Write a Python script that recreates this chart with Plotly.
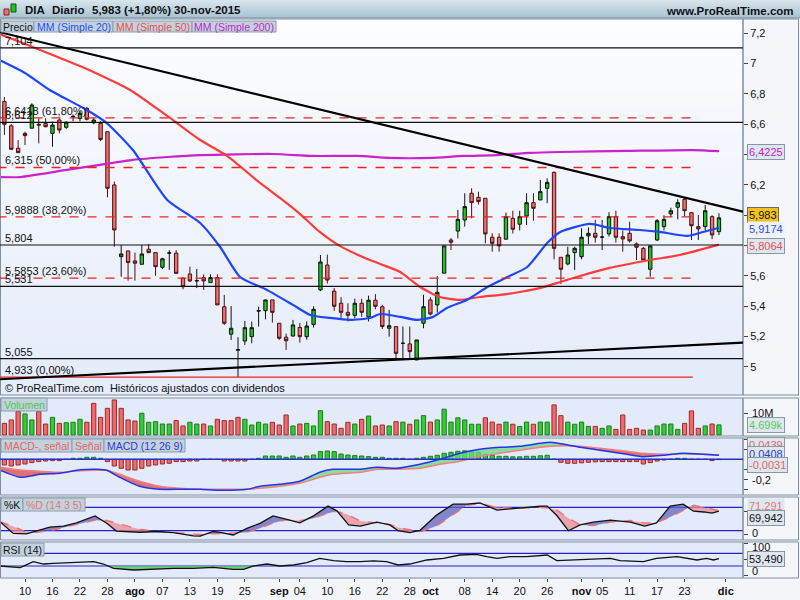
import plotly.graph_objects as go

W, H = 800, 600
PR = 743  # right edge of plot area (px)

# ---------------- DATA ----------------
tick_idx = [3, 7, 11, 15, 19, 23, 27, 31, 35, 40, 43, 47, 51, 55, 59, 62, 67, 71, 75, 79, 84, 87, 91, 95, 99, 105]
tick_txt = ['10', '16', '22', '28', '<b>ago</b>', '07', '13', '19', '25', '<b>sep</b>', '04', '10', '16', '22', '28',
            '<b>oct</b>', '08', '14', '20', '26', '<b>nov</b>', '05', '11', '17', '23', '<b>dic</b>']

opens = [6.75, 6.59, 6.442, 6.54, 6.574, 6.60, 6.606, 6.54, 6.628, 6.58,
         6.648, 6.639, 6.705, 6.61, 6.606, 6.551, 6.20, 5.727, 5.765, 5.699,
         5.677, 5.776, 5.754, 5.657, 5.75, 5.75, 5.585, 5.613, 5.567, 5.589,
         5.556, 5.589, 5.397, 5.216, 5.11, 5.171, 5.200, 5.368, 5.371, 5.442,
         5.288, 5.196, 5.204, 5.26, 5.20, 5.28, 5.508, 5.672, 5.50, 5.42,
         5.36, 5.34, 5.42, 5.33, 5.44, 5.397, 5.255, 5.266, 5.156, 5.152,
         5.046, 5.288, 5.442, 5.409, 5.618, 5.837, 5.896, 5.969, 6.145, 6.118,
         6.112, 5.855, 5.855, 5.842, 5.98, 5.941, 5.995, 6.083, 6.101, 6.178,
         6.283, 5.723, 5.679, 5.754, 5.727, 5.864, 5.881, 5.855, 5.877, 5.991,
         5.859, 5.881, 5.811, 5.782, 5.644, 5.837, 5.925, 6.009, 6.053, 6.105,
         6.017, 5.925, 5.925, 5.991, 5.892]
highs = [6.78, 6.60, 6.496, 6.551, 6.738, 6.639, 6.64, 6.617, 6.639, 6.62,
         6.665, 6.688, 6.715, 6.639, 6.62, 6.551, 6.222, 5.804, 5.765, 5.754,
         5.804, 5.811, 5.754, 5.72, 5.77, 5.77, 5.59, 5.661, 5.646, 5.61,
         5.61, 5.611, 5.475, 5.402, 5.196, 5.303, 5.299, 5.397, 5.442, 5.442,
         5.288, 5.22, 5.310, 5.29, 5.30, 5.40, 5.738, 5.74, 5.52, 5.46,
         5.42, 5.45, 5.45, 5.47, 5.48, 5.41, 5.376, 5.266, 5.266, 5.266,
         5.178, 5.475, 5.46, 5.60, 5.798, 5.85, 6.035, 6.145, 6.178, 6.155,
         6.112, 5.881, 5.881, 6.017, 6.03, 6.03, 6.145, 6.145, 6.233, 6.244,
         6.288, 5.723, 5.793, 5.793, 5.914, 5.92, 5.969, 5.969, 6.02, 6.03,
         5.90, 5.958, 5.82, 5.79, 5.80, 5.975, 6.00, 6.05, 6.105, 6.115,
         6.02, 6.002, 6.068, 6.0, 6.013]
lows = [6.53, 6.43, 6.41, 6.463, 6.574, 6.474, 6.58, 6.452, 6.54, 6.57,
        6.62, 6.62, 6.625, 6.60, 6.49, 6.118, 5.793, 5.595, 5.569, 5.569,
        5.677, 5.75, 5.601, 5.645, 5.64, 5.617, 5.512, 5.56, 5.52, 5.508,
        5.556, 5.409, 5.277, 5.178, 4.933, 5.145, 5.156, 5.266, 5.314, 5.292,
        5.178, 5.112, 5.20, 5.16, 5.18, 5.26, 5.50, 5.55, 5.37, 5.32,
        5.30, 5.32, 5.33, 5.30, 5.38, 5.25, 5.20, 5.059, 5.046, 5.046,
        5.046, 5.255, 5.34, 5.358, 5.618, 5.771, 5.848, 5.925, 5.98, 6.07,
        5.815, 5.76, 5.76, 5.842, 5.88, 5.90, 5.936, 5.964, 6.101, 6.08,
        5.71, 5.547, 5.67, 5.64, 5.71, 5.81, 5.82, 5.771, 5.86, 5.82,
        5.76, 5.82, 5.705, 5.705, 5.595, 5.83, 5.90, 5.99, 5.973, 5.991,
        5.837, 5.837, 5.90, 5.842, 5.87]
closes = [6.60, 6.435, 6.413, 6.525, 6.727, 6.595, 6.584, 6.595, 6.562, 6.613,
          6.652, 6.672, 6.633, 6.628, 6.50, 6.178, 5.903, 5.745, 5.688, 5.684,
          5.745, 5.754, 5.661, 5.713, 5.752, 5.617, 5.529, 5.567, 5.569, 5.567,
          5.589, 5.409, 5.288, 5.255, 5.114, 5.259, 5.259, 5.371, 5.442, 5.36,
          5.189, 5.173, 5.277, 5.20, 5.27, 5.38, 5.692, 5.573, 5.40, 5.36,
          5.34, 5.42, 5.36, 5.44, 5.40, 5.266, 5.272, 5.09, 5.156, 5.101,
          5.178, 5.397, 5.349, 5.492, 5.798, 5.822, 5.973, 6.057, 6.083, 6.09,
          5.877, 5.815, 5.798, 5.991, 5.908, 5.991, 6.083, 6.046, 6.156, 6.217,
          5.782, 5.644, 5.738, 5.782, 5.855, 5.881, 5.855, 5.857, 5.991, 5.855,
          5.844, 5.831, 5.789, 5.705, 5.798, 5.964, 5.973, 6.03, 6.083, 6.030,
          5.931, 5.91, 6.030, 5.870, 5.983]

# volume in millions, and up(1)/down(0) colour flag
volume = [5.4, 7.0, 10.9, 9.8, 7.0, 10.9, 5.1, 8.2, 5.4, 5.7,
          5.9, 7.3, 5.9, 14.7, 8.2, 12.4, 16.3, 12.4, 7.0, 6.5,
          10.1, 5.9, 6.2, 5.1, 5.1, 6.7, 4.2, 5.9, 5.1, 5.1,
          4.2, 7.3, 6.7, 6.7, 8.2, 7.3, 4.65, 5.9, 5.1, 5.9,
          4.65, 9.3, 4.2, 5.1, 5.4, 4.2, 11.3, 6.2, 5.1, 3.1,
          5.9, 5.1, 7.3, 8.8, 4.2, 4.65, 4.2, 6.2, 6.0, 5.0,
          7.0, 9.0, 6.0, 7.0, 12.0, 6.0, 8.0, 7.0, 5.0, 5.0,
          8.0, 6.0, 5.0, 6.0, 5.0, 4.0, 6.0, 5.0, 6.0, 6.0,
          14.0, 9.0, 6.0, 5.0, 6.0, 4.0, 4.0, 3.1, 4.2, 2.6,
          9.3, 2.6, 3.1, 2.3, 2.3, 4.2, 5.1, 5.1, 2.6, 5.4,
          11.2, 3.1, 4.2, 5.1, 4.699]
vol_up = [0, 0, 0, 1, 1, 0, 0, 1, 0, 1,
          1, 1, 0, 0, 0, 0, 0, 0, 0, 0,
          1, 1, 1, 1, 1, 0, 0, 1, 1, 0,
          1, 0, 0, 0, 0, 1, 1, 1, 1, 0,
          0, 0, 1, 0, 1, 1, 1, 0, 0, 0,
          0, 1, 0, 1, 0, 0, 1, 0, 1, 0,
          1, 1, 0, 1, 1, 1, 1, 1, 1, 1,
          0, 0, 0, 1, 0, 1, 1, 0, 1, 1,
          0, 0, 1, 1, 1, 1, 0, 1, 1, 0,
          0, 0, 0, 0, 1, 1, 1, 1, 1, 0,
          0, 0, 1, 0, 1]

# moving averages (date index, value)
ma20_idx = [-1, 3, 6.6, 12, 14.9, 18.7, 23.7, 28.5, 31.4, 34.3, 38.2, 42, 44.5, 47.4, 50.3, 53.2, 54.7, 57.6,
            60, 62.4, 64.4, 67.3, 70.3, 73.2, 76.1, 79, 80.9, 85.2, 88.2, 92.5, 95.4, 99.4, 101.7, 104]
ma20_val = [7.03, 6.938, 6.826, 6.694, 6.608, 6.430, 6.101, 5.949, 5.791, 5.593, 5.508, 5.409, 5.343, 5.323, 5.310,
            5.323, 5.349, 5.330, 5.310, 5.330, 5.389, 5.442, 5.527, 5.593, 5.659, 5.817, 5.890, 5.943, 5.916, 5.903,
            5.890, 5.864, 5.890, 5.9174]
ma50_idx = [-1, 2.3, 5.2, 8.1, 11, 13.9, 18.3, 23.7, 28.5, 32.4, 37.2, 40.1, 43, 45.9, 48.8, 51.8, 54.7, 57.6,
            60.5, 63.4, 66.3, 69.2, 72.1, 75, 78, 80.9, 83.8, 88.1, 94, 98.3, 104]
ma50_val = [7.20, 7.142, 7.090, 7.037, 6.984, 6.925, 6.826, 6.655, 6.496, 6.391, 6.213, 6.114, 6.009, 5.890, 5.798,
            5.732, 5.679, 5.626, 5.527, 5.461, 5.442, 5.461, 5.475, 5.494, 5.521, 5.560, 5.600, 5.653, 5.705, 5.738,
            5.8064]
ma200_idx = [-1, 2.3, 9.1, 13.9, 18.7, 23.7, 28.5, 39.1, 44.9, 51.3, 56.1, 62, 66.8, 71.7, 76.5, 80.9, 90.6, 100.2, 104]
ma200_val = [6.252, 6.252, 6.299, 6.332, 6.365, 6.384, 6.397, 6.404, 6.391, 6.391, 6.378, 6.378, 6.391, 6.397, 6.411,
             6.417, 6.424, 6.430, 6.4225]

# drawn lines
trend_hi = ([-0.64, 107.5], [7.207, 6.024])
trend_lo = ([-0.64, 107.5], [4.919, 5.160])
h_levels = [7.104, 6.612, 5.804, 5.531, 5.055]
h_labels = ['7,104', '6,612', '5,804', '5,531', '5,055']
fib_levels = [6.6418, 6.315, 5.9888, 5.5853, 4.933]
fib_labels = ['6,6418 (61,80%)', '6,315 (50,00%)', '5,9888 (38,20%)', '5,5853 (23,60%)', '4,933 (0,00%)']
fib_end = 100.2

# MACD (index, macd, signal)
macd_idx = [-1, 2.3, 5.2, 8.1, 11, 13.5, 14.9, 16.8, 19.7, 22.6, 25.6, 28.5, 31.4, 35.3, 37.2, 40.1, 43, 45.9,
            47.8, 51.8, 54.2, 57.1, 60.5, 63.4, 66.3, 69.2, 72.1, 75, 78, 79.5, 81.5, 83.8, 86.7, 90.6, 93, 96,
            98.8, 101.7, 104]
macd_val = [-0.10, -0.18, -0.15, -0.14, -0.105, -0.10, -0.11, -0.18, -0.27, -0.30, -0.30, -0.30, -0.31, -0.30,
            -0.27, -0.25, -0.22, -0.13, -0.10, -0.10, -0.08, -0.09, -0.05, 0.0, 0.06, 0.10, 0.12, 0.13, 0.16, 0.17,
            0.15, 0.12, 0.09, 0.05, 0.026, 0.04, 0.06, 0.05, 0.0408]
signal_val = [-0.075, -0.107, -0.12, -0.13, -0.115, -0.11, -0.11, -0.15, -0.22, -0.27, -0.29, -0.30, -0.30, -0.30,
              -0.29, -0.27, -0.24, -0.18, -0.15, -0.13, -0.10, -0.10, -0.09, -0.05, -0.02, 0.03, 0.06, 0.09, 0.12,
              0.13, 0.135, 0.13, 0.11, 0.08, 0.06, 0.05, 0.055, 0.05, 0.0439]
macd_hist = [-0.057, -0.067, -0.057, -0.047, -0.033, -0.023, -0.017, -0.013, -0.013, 0.0,
             0.01, 0.01, 0.02, 0.02, 0.01, -0.023, -0.067, -0.09, -0.107, -0.107,
             -0.09, -0.067, -0.057, -0.047, -0.04, -0.023, -0.023, -0.017, -0.017, 0.0,
             0.0, 0.0, -0.017, -0.017, -0.017, -0.017, 0.0, 0.01, 0.033, 0.033,
             0.033, 0.02, 0.033, 0.02, 0.033, 0.043, 0.077, 0.083, 0.077, 0.053,
             0.043, 0.037, 0.033, 0.027, 0.02, 0.02, 0.01, 0.01, 0.01, 0.0,
             0.01, 0.02, 0.03, 0.04, 0.06, 0.07, 0.08, 0.085, 0.08, 0.07,
             0.05, 0.04, 0.03, 0.03, 0.025, 0.025, 0.03, 0.03, 0.035, 0.04,
             0.0, -0.03, -0.04, -0.04, -0.035, -0.03, -0.025, -0.023, -0.023, -0.023,
             -0.023, -0.023, -0.023, -0.047, -0.033, -0.017, -0.007, 0.0, 0.01, 0.01,
             0.0, 0.0, 0.0, -0.013, -0.0031]

# Stochastic (index, %K, %D)
sto_idx = [-0.64, 1.3, 3.2, 4.7, 6.6, 8.6, 10.5, 13.2, 14.9, 16.3, 19.7, 22.2, 24.6, 27.5, 28.5, 30.4, 31.4, 33.3,
           35.3, 37.2, 39.1, 41.1, 43, 45, 47.1, 48.4, 50.1, 51.8, 54.2, 56.1, 57.3, 59, 60.5, 62.9, 65.3, 67.3,
           69.2, 71.7, 74.6, 78, 79, 80.4, 82.1, 83.8, 85.7, 88.2, 91.1, 93.2, 94.9, 96.9, 98.8, 100.3, 101.8,
           103, 104]
sto_k = [43, 13, 12, 20, 29, 32, 40, 58, 39, 19, 16, 18, 15, 7, 6, 18, 16, 9, 26, 39, 58, 49, 40, 58, 83, 71, 35,
         32, 42, 35, 20, 15, 21, 60, 88, 88, 91, 73, 78, 83, 83, 59, 20, 35, 42, 47, 42, 32, 40, 83, 88, 70, 68, 65,
         69.942]
sto_d = [43, 31, 16, 16, 20, 28, 36, 47, 46, 39, 24, 18, 15, 11, 10.6, 12, 13, 13, 16, 26, 40, 48, 46, 52, 65, 70,
         60, 45, 40, 36, 28, 22, 17, 32, 60, 85, 90, 80, 77, 80, 78, 73, 52, 35, 33, 42, 46, 40, 40, 55, 72, 85, 80,
         75, 71.291]

# RSI (index, value)
rsi_idx = [-0.64, 2.3, 4.2, 5.7, 7.1, 9.1, 11, 13, 14.4, 15.9, 18.8, 21.7, 24.6, 27.5, 30.4, 33.3, 34.8, 36.3,
           38.2, 40.1, 42.1, 44, 45.9, 47.9, 49.8, 51.8, 53.7, 55.6, 57.3, 59, 61.5, 63.9, 66.3, 68.7, 70.2, 71.7,
           73.6, 76, 79, 80.4, 82.8, 85.2, 88.2, 89.6, 93, 94.9, 97.9, 100.8, 102.2, 103.2, 104]
rsi_val = [30, 24.6, 43.5, 36.2, 38.4, 40.5, 43.5, 43.5, 36.2, 22.7, 17.3, 20.5, 22.7, 22.7, 25.8, 19.5, 19.5,
           30, 36.2, 30, 33.1, 40.5, 54.2, 46.9, 43.5, 43.5, 45.8, 43.5, 33.1, 36.2, 48.9, 54.2, 64.6, 66.8, 59.3,
           54.2, 59.3, 59.3, 64.6, 46.9, 48.9, 51, 54.2, 46.9, 43.5, 54.2, 59.3, 48.9, 54.2, 48.9, 53.49]

# ---------------- helpers ----------------
FONT = 'Liberation Sans, Arial, sans-serif'


def ypx(p):  # pixel row -> paper y
    return 1 - p / H


def xpx(p):
    return p / W


PANELS = {  # top, bottom pixel rows
    'y': (19, 395), 'y2': (398, 436), 'y3': (438, 495), 'y4': (497, 540), 'y5': (542, 578)}

fig = go.Figure()
shapes = []
ann = []

BG_PANEL = '#e3eaf9'
BORDER = '#7f8fa0'

# header bar gradient
top_c, bot_c = (214, 228, 236), (170, 196, 211)
nb = 9
for k in range(nb):
    t = k / (nb - 1)
    c = tuple(int(top_c[j] + (bot_c[j] - top_c[j]) * t) for j in range(3))
    shapes.append(dict(type='rect', xref='paper', yref='paper', x0=0, x1=1, y0=ypx(k * 2 + 2), y1=ypx(k * 2),
                       fillcolor='rgb(%d,%d,%d)' % c, line=dict(width=0), layer='below'))
shapes.append(dict(type='line', xref='paper', yref='paper', x0=0, x1=1, y0=ypx(18), y1=ypx(18),
                   line=dict(color='#7a8d9c', width=1), layer='below'))

# price panel gradient
ptop, pbot = PANELS['y']
ct, cb = (252, 253, 255), (229, 236, 250)
nb = 30
for k in range(nb):
    y0p = ptop + (pbot - ptop) * k / nb
    y1p = ptop + (pbot - ptop) * (k + 1) / nb
    t = k / (nb - 1)
    c = tuple(int(ct[j] + (cb[j] - ct[j]) * t) for j in range(3))
    shapes.append(dict(type='rect', xref='paper', yref='paper', x0=0, x1=xpx(PR), y0=ypx(y1p + 0.5), y1=ypx(y0p),
                       fillcolor='rgb(%d,%d,%d)' % c, line=dict(width=0), layer='below'))

for key, (t, b) in PANELS.items():
    if key != 'y':
        shapes.append(dict(type='rect', xref='paper', yref='paper', x0=0, x1=xpx(PR), y0=ypx(b), y1=ypx(t),
                           fillcolor=BG_PANEL, line=dict(width=0), layer='below'))
    shapes.append(dict(type='rect', xref='paper', yref='paper', x0=xpx(0.5), x1=xpx(PR), y0=ypx(b), y1=ypx(t),
                       fillcolor='rgba(0,0,0,0)', line=dict(color=BORDER, width=1), layer='above'))
    shapes.append(dict(type='rect', xref='paper', yref='paper', x0=xpx(PR), x1=xpx(798.5), y0=ypx(b), y1=ypx(t),
                       fillcolor='#f4f6f9', line=dict(color=BORDER, width=1), layer='below'))

# horizontal black lines and fib lines
for lv in h_levels:
    shapes.append(dict(type='line', xref='x', yref='y', x0=-1, x1=110, y0=lv, y1=lv,
                       line=dict(color='#111111', width=1.2)))
for k, lv in enumerate(fib_levels):
    shapes.append(dict(type='line', xref='x', yref='y', x0=-1, x1=fib_end, y0=lv, y1=lv,
                       line=dict(color='#ee2020', width=1.3, dash='solid' if k == 4 else 'dash')))
# trend lines
for tl in (trend_hi, trend_lo):
    shapes.append(dict(type='line', xref='x', yref='y', x0=tl[0][0], x1=tl[0][1], y0=tl[1][0], y1=tl[1][1],
                       line=dict(color='#000000', width=2.2)))
# stochastic and RSI guide lines
for lv in (80, 20):
    shapes.append(dict(type='line', xref='paper', yref='y4', x0=0, x1=xpx(PR), y0=lv, y1=lv,
                       line=dict(color='#2222cc', width=1.2), layer='below'))
for lv in (70, 30):
    shapes.append(dict(type='line', xref='paper', yref='y5', x0=0, x1=xpx(PR), y0=lv, y1=lv,
                       line=dict(color='#2222cc', width=1.2), layer='below'))
shapes.append(dict(type='line', xref='paper', yref='y3', x0=0, x1=xpx(PR), y0=0, y1=0,
                   line=dict(color='#2233cc', width=1.5)))


def band_polys(xs, a, b):
    segs = []
    cx, ca, cb_ = [xs[0]], [a[0]], [b[0]]
    sign = a[0] >= b[0]
    for k in range(1, len(xs)):
        s = a[k] >= b[k]
        if s != sign:
            d0 = a[k - 1] - b[k - 1]
            d1 = a[k] - b[k]
            tt = d0 / (d0 - d1)
            xc = xs[k - 1] + tt * (xs[k] - xs[k - 1])
            yc = a[k - 1] + tt * (a[k] - a[k - 1])
            cx.append(xc); ca.append(yc); cb_.append(yc)
            segs.append((cx, ca, cb_, sign))
            cx, ca, cb_ = [xc], [yc], [yc]
            sign = s
        cx.append(xs[k]); ca.append(a[k]); cb_.append(b[k])
    segs.append((cx, ca, cb_, sign))
    return segs


def add_band(xs, a, b, col_pos, col_neg, yaxis):
    for cx, ca, cb_, s in band_polys(xs, a, b):
        fig.add_trace(go.Scatter(x=cx + cx[::-1], y=ca + cb_[::-1], fill='toself', mode='lines',
                                 line=dict(width=0), fillcolor=col_pos if s else col_neg,
                                 hoverinfo='skip', yaxis=yaxis))


# ---------------- traces ----------------
idx = list(range(len(opens)))
fig.add_trace(go.Scatter(x=ma200_idx, y=ma200_val, mode='lines', line=dict(color='#cc22cc', width=2.2, shape='spline', smoothing=0.6), hoverinfo='skip'))
fig.add_trace(go.Scatter(x=ma50_idx, y=ma50_val, mode='lines', line=dict(color='#ff3b3b', width=2.2, shape='spline', smoothing=0.6), hoverinfo='skip'))
fig.add_trace(go.Scatter(x=ma20_idx, y=ma20_val, mode='lines', line=dict(color='#1f45ff', width=2.2, shape='spline', smoothing=0.6), hoverinfo='skip'))
fig.add_trace(go.Candlestick(x=idx, open=opens, high=highs, low=lows, close=closes,
                             increasing=dict(fillcolor='#22c322', line=dict(color='#111111', width=1)),
                             decreasing=dict(fillcolor='#f07070', line=dict(color='#4a1010', width=1)),
                             whiskerwidth=0, hoverinfo='skip'))

# volume
fig.add_trace(go.Bar(x=idx, y=volume, yaxis='y2', width=0.62,
                     marker=dict(color=['#33cc33' if u else '#ee6b6b' for u in vol_up],
                                 line=dict(color=['#1d7a1d' if u else '#a02828' for u in vol_up], width=1)),
                     hoverinfo='skip'))

# MACD
add_band(macd_idx, macd_val, signal_val, 'rgba(110,215,130,0.75)', 'rgba(225,90,90,0.85)', 'y3')
fig.add_trace(go.Bar(x=idx, y=macd_hist, yaxis='y3', width=0.62,
                     marker=dict(color=['#33cc33' if v > 0 else '#ee6b6b' for v in macd_hist],
                                 line=dict(color=['#1d7a1d' if v > 0 else '#a02828' for v in macd_hist], width=1)),
                     hoverinfo='skip'))
fig.add_trace(go.Scatter(x=macd_idx, y=signal_val, yaxis='y3', mode='lines',
                         line=dict(color='#f08080', width=1.5, shape='spline', smoothing=0.5), hoverinfo='skip'))
fig.add_trace(go.Scatter(x=macd_idx, y=macd_val, yaxis='y3', mode='lines',
                         line=dict(color='#2233ee', width=1.5, shape='spline', smoothing=0.5), hoverinfo='skip'))

# Stochastic
add_band(sto_idx, sto_k, sto_d, 'rgba(100,100,190,0.75)', 'rgba(235,140,150,0.75)', 'y4')
fig.add_trace(go.Scatter(x=sto_idx, y=sto_d, yaxis='y4', mode='lines',
                         line=dict(color='#f07070', width=1.4, dash='dash'), hoverinfo='skip'))
fig.add_trace(go.Scatter(x=sto_idx, y=sto_k, yaxis='y4', mode='lines',
                         line=dict(color='#111111', width=1.3), hoverinfo='skip'))

# RSI
thirty = [30] * len(rsi_idx)
for cx, ca, cb_, s in band_polys(rsi_idx, rsi_val, thirty):
    if not s:
        fig.add_trace(go.Scatter(x=cx + cx[::-1], y=ca + cb_[::-1], fill='toself', mode='lines',
                                 line=dict(width=0), fillcolor='rgba(90,200,110,0.85)', hoverinfo='skip',
                                 yaxis='y5'))
fig.add_trace(go.Scatter(x=rsi_idx, y=rsi_val, yaxis='y5', mode='lines',
                         line=dict(color='#111111', width=1.3), hoverinfo='skip'))


# ---------------- annotations ----------------
def text(xp, yp, s, color='#111', size=11, xanchor='left', bold=False, bg=None, border=None, yanchor='middle'):
    d = dict(xref='paper', yref='paper', x=xpx(xp), y=ypx(yp), text=('<b>%s</b>' % s) if bold else s,
             showarrow=False, xanchor=xanchor, yanchor=yanchor,
             font=dict(color=color, size=size, family=FONT))
    if bg:
        d.update(bgcolor=bg, borderpad=1)
    if border:
        d.update(bordercolor=border, borderwidth=1)
    ann.append(d)


def chip(x0, x1, y0, y1, s, color):
    shapes.append(dict(type='rect', xref='paper', yref='paper', x0=xpx(x0), x1=xpx(x1), y0=ypx(y1), y1=ypx(y0),
                       fillcolor='#c3d1dc', line=dict(color='#8a9cab', width=1)))
    text((x0 + x1) / 2, (y0 + y1) / 2 + 0.5, s, color=color, xanchor='center', size=10.5)


# header
shapes.append(dict(type='rect', xref='paper', yref='paper', x0=xpx(4), x1=xpx(9), y0=ypx(15), y1=ypx(9),
                   fillcolor='#f07070', line=dict(color='#802020', width=1)))
shapes.append(dict(type='rect', xref='paper', yref='paper', x0=xpx(11), x1=xpx(16), y0=ypx(12), y1=ypx(4),
                   fillcolor='#22c322', line=dict(color='#105010', width=1)))
text(23, 10, 'DIA', bold=True, size=11.5)
text(50, 10, 'Diario', bold=True, size=11.5)
text(90, 10, '5,983 (+1,80%)', bold=True, size=11.5)
text(172, 10, '30-nov-2015', bold=True, size=11.5)
text(796, 11, 'www.ProRealTime.com', bold=True, size=11.5, xanchor='right')

# legend chips
chip(1, 34, 21, 32, 'Precio', '#111111')
chip(34, 113, 21, 32, 'MM (Simple 20)', '#2a4cff')
chip(113, 192, 21, 32, 'MM (Simple 50)', '#e85050')
chip(192, 276, 21, 32, 'MM (Simple 200)', '#c028c8')
chip(1, 47, 398, 411, 'Volumen', '#4cc84c')
chip(1, 72, 439, 452, 'MACD-, señal', '#e06868')
chip(72, 104, 439, 452, 'Señal', '#e06868')
chip(104, 185, 439, 452, 'MACD (12 26 9)', '#2a3ce0')
chip(1, 23, 498, 511, '%K', '#111111')
chip(23, 85, 498, 511, '%D (14 3 5)', '#e07a7a')
chip(1, 44, 543, 556, 'RSI (14)', '#111111')

# line labels
for lv, lb in zip(h_levels + fib_levels, h_labels + fib_labels):
    ann.append(dict(xref='paper', yref='y', x=xpx(3), y=lv, text=lb, showarrow=False, xanchor='left',
                    yanchor='bottom', yshift=-1, font=dict(color='#111', size=11, family=FONT)))
text(3, 388, '© ProRealTime.com  Históricos ajustados con dividendos', color='#111')

# right side value boxes
text(747, 152, '6,4225', color='#c028c8', bg='#dfe6ee', border='#8797a6')
text(747, 215, '5,983', color='#111', bg='#f2c21c', border='#6a6a6a')
text(747, 229, '5,9174', color='#2a4cff', bg='#eef2f7')
text(747, 245.5, '5,8064', color='#e85050', bg='#dfe6ee', border='#8797a6')
text(747, 425, '4.699k', color='#55cc55', bg='#dfe6ee', border='#8797a6')
text(750, 413, '10M')
text(747, 445, '0,0439', color='#e06868', bg='#dfe6ee', border='#8797a6')
text(747, 453.5, '0,0408', color='#2a3ce0', bg='#dfe6ee', border='#8797a6')
text(747, 464.5, '-0,0031', color='#e06868', bg='#dfe6ee', border='#8797a6')
text(750, 480, '-0,2')
text(747, 506, '71,291', color='#e07a7a', bg='#dfe6ee')
text(747, 518, '69,942', color='#111', bg='#dfe6ee', border='#8797a6')
text(750, 532.5, '0')
text(750, 547, '100')
text(747, 559, '53,490', color='#111', bg='#dfe6ee', border='#8797a6')
text(750, 570.5, '0')


# ---------------- layout ----------------
def ydom(key):
    t, b = PANELS[key]
    return [ypx(b), ypx(t)]


common_y = dict(side='right', anchor='x', showgrid=False, zeroline=False, showline=False, ticks='outside',
                ticklen=4, tickcolor='#444', tickfont=dict(size=11, color='#111', family=FONT), fixedrange=True)

fig.update_layout(
    width=W, height=H, margin=dict(l=0, r=0, t=0, b=0), autosize=False,
    paper_bgcolor='#f3f5f8', plot_bgcolor='rgba(0,0,0,0)', showlegend=False,
    font=dict(family=FONT, size=11, color='#111'),
    xaxis=dict(domain=[0, xpx(PR)], range=[-0.64, 107.5], anchor='y5', tickvals=tick_idx, ticktext=tick_txt,
               ticks='outside', ticklen=3, tickcolor='#444', showgrid=False, zeroline=False, showline=False,
               rangeslider=dict(visible=False), tickfont=dict(size=11, color='#111', family=FONT), fixedrange=True),
    yaxis=dict(domain=ydom('y'), range=[4.815, 7.294],
               tickvals=[5, 5.2, 5.4, 5.6, 5.8, 6.0, 6.2, 6.4, 6.6, 6.8, 7.0, 7.2],
               ticktext=['5', '5,2', '5,4', '5,6', '', '', '6,2', '', '6,6', '6,8', '7', '7,2'], **common_y),
    yaxis2=dict(domain=ydom('y2'), range=[-0.465, 17.2], tickvals=[10], ticktext=[''], **common_y),
    yaxis3=dict(domain=ydom('y3'), range=[-0.357, 0.213], tickvals=[-0.3, -0.2, -0.1, 0.1, 0.2],
                ticktext=['', '', '', '', ''], **common_y),
    yaxis4=dict(domain=ydom('y4'), range=[-3.8, 106.4], tickvals=[10, 70], ticktext=['', ''], **common_y),
    yaxis5=dict(domain=ydom('y5'), range=[-7.9, 105.6], tickvals=[0, 50, 100], ticktext=['', '', ''], **common_y),
    shapes=shapes, annotations=ann, bargap=0.3,
)

fig.write_html('out.html', config={'displayModeBar': False, 'responsive': False},
               post_script="document.body.style.margin='0px';document.body.style.overflow='hidden';")
